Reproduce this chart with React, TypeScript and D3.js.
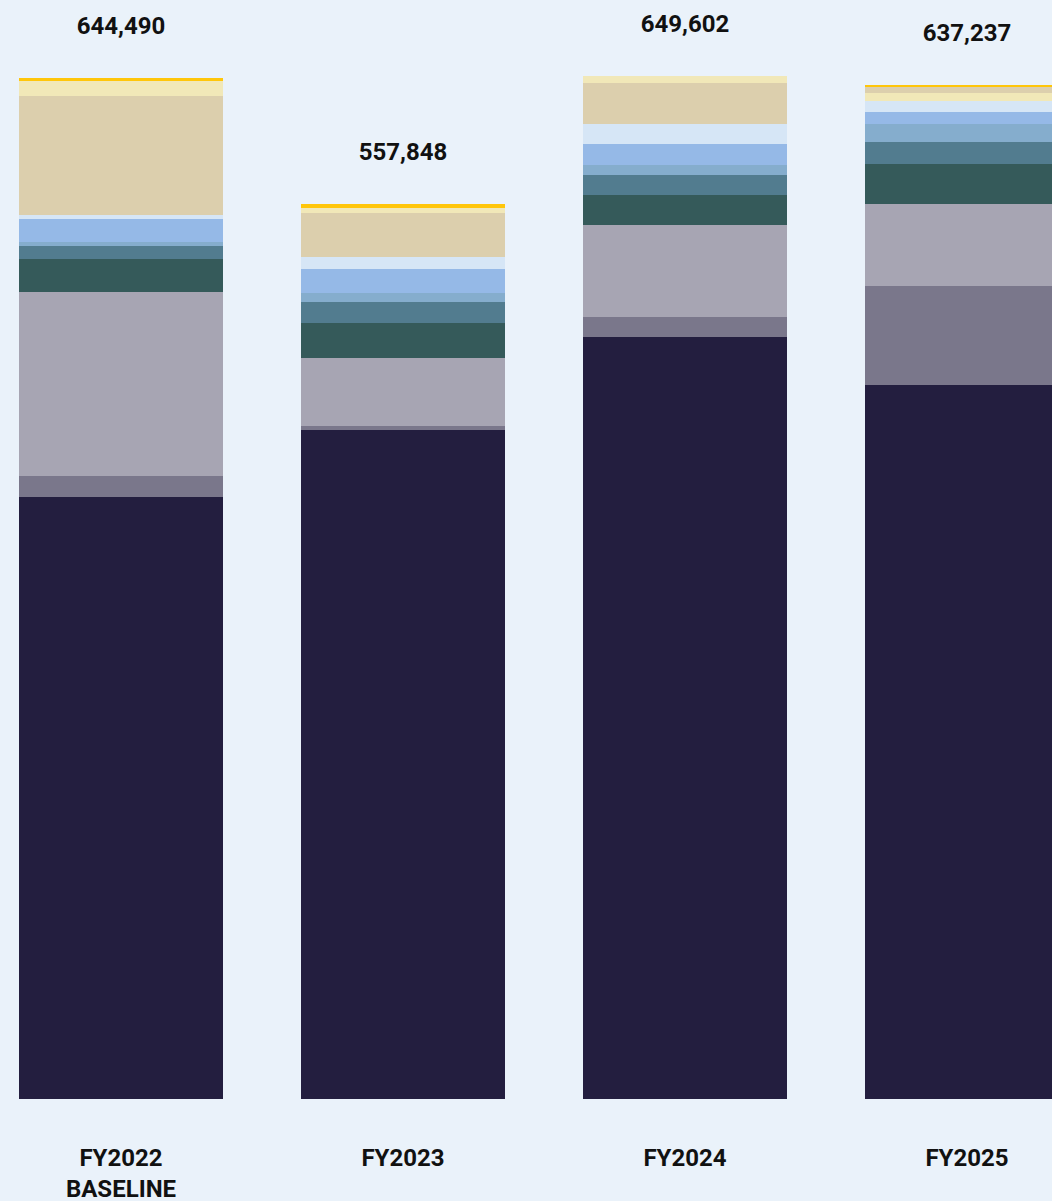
import React from "react";
import * as d3 from "d3";

const categories = ["FY2022|BASELINE", "FY2023", "FY2024", "FY2025"];
const totalLabels = ["644,490", "557,848", "649,602", "637,237"];

const seriesNames = [
  "navy", "midPurple", "lilac", "darkTeal", "steelBlue", "steelLight",
  "lightBlue", "paleBlue", "tan", "lightYellow", "gold",
];
const seriesColors = [
  "#231E3F", "#7A778B", "#A7A5B3", "#355A5A", "#527C8F", "#85ADCD",
  "#95B9E7", "#D6E6F6", "#DCCFAD", "#F1E8B8", "#FFC60A",
];

// values per bar, same order as seriesNames
const fy2022 = [380000, 13250, 116100, 20800, 8200, 2520, 14500, 2520, 75100, 9470, 1890];
const fy2023 = [422200, 2520, 42900, 22100, 13250, 5680, 15150, 7570, 27800, 3160, 2520];
const fy2024 = [480900, 12620, 58060, 18930, 12620, 6310, 13250, 12620, 25900, 4420, 0];
const fy2025 = [450600, 62480, 51750, 25240, 13880, 11360, 7570, 6940, 3790, 5050, 1260];
const barValues = [fy2022, fy2023, fy2024, fy2025];

// stacking order (bottom to top) for each bar
const defaultOrder = [0, 1, 2, 3, 4, 5, 6, 7, 8, 9, 10];
const fy2025Order = [0, 1, 2, 3, 4, 5, 6, 7, 9, 8, 10];
const barOrders = [defaultOrder, defaultOrder, defaultOrder, fy2025Order];

const W = 1052;
const H = 1201;

export default function App() {
  const x = d3
    .scaleBand<string>()
    .domain(categories)
    .range([-20, 1108])
    .paddingInner(78 / 282)
    .paddingOuter(39 / 282);
  const y = d3.scaleLinear().domain([0, 644450]).range([1099, 78]);

  const font = "Roboto, 'DejaVu Sans', sans-serif";

  return (
    <svg
      width={W}
      height={H}
      style={{ position: "absolute", left: 0, top: 0, display: "block" }}
    >
      <rect x={0} y={0} width={W} height={H} fill="#EAF2FA" />
      {categories.map((cat, bi) => {
        const vals = barValues[bi];
        const order = barOrders[bi];
        const cum = d3.cumsum(order.map((si) => vals[si]));
        const bx = x(cat)!;
        const bw = x.bandwidth();
        const total = cum[cum.length - 1];
        const lines = cat.split("|");
        return (
          <g key={cat}>
            {order.map((si, k) => {
              const v0 = k === 0 ? 0 : cum[k - 1];
              const v1 = cum[k];
              if (v1 - v0 <= 0) return null;
              return (
                <rect
                  key={seriesNames[si]}
                  x={bx}
                  y={y(v1)}
                  width={bw}
                  height={y(v0) - y(v1)}
                  fill={seriesColors[si]}
                  shapeRendering="crispEdges"
                />
              );
            })}
            <text
              x={bx + bw / 2}
              y={y(total) - 44}
              textAnchor="middle"
              fontFamily={font}
              fontWeight={700}
              fontSize={24}
              fill="#111111"
            >
              {totalLabels[bi]}
            </text>
            {lines.map((ln, li) => (
              <text
                key={ln}
                x={bx + bw / 2}
                y={1166 + li * 31}
                textAnchor="middle"
                fontFamily={font}
                fontWeight={700}
                fontSize={24}
                fill="#111111"
              >
                {ln}
              </text>
            ))}
          </g>
        );
      })}
    </svg>
  );
}
